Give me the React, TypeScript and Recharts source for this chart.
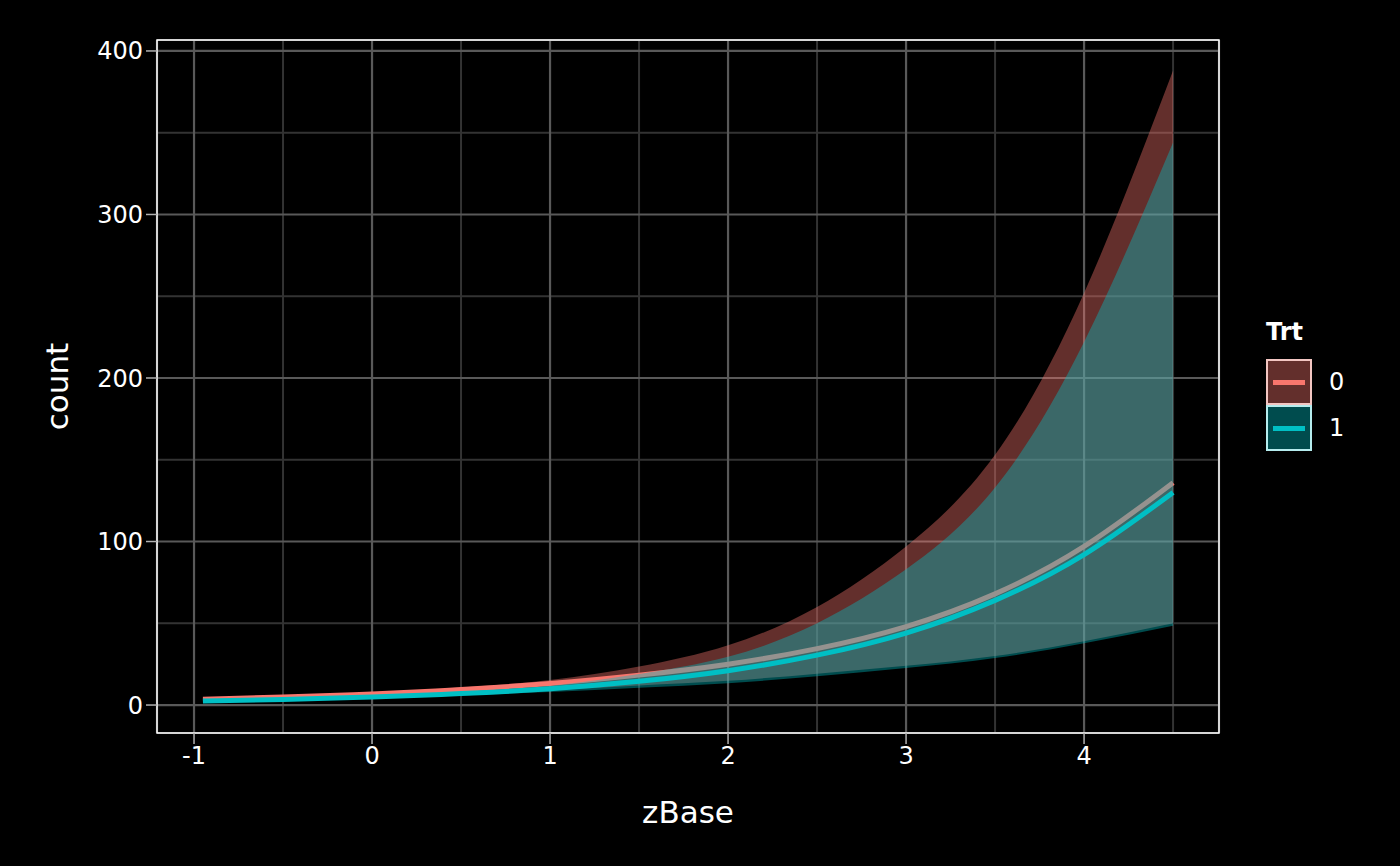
import {
  Area,
  CartesianGrid,
  ComposedChart,
  Legend,
  Line,
  ReferenceArea,
  XAxis,
  YAxis,
} from 'recharts';

const font = '"DejaVu Sans", Verdana, sans-serif';

// values, one entry per zBase position
const zBase = [-0.95, -0.5, 0, 0.5, 1, 1.5, 2, 2.5, 3, 3.5, 4, 4.5];
const fit0 = [3.6, 4.9, 6.8, 9.5, 13.2, 18.3, 25, 34.5, 48, 68, 97, 136];
const upper0 = [4.5, 5.8, 7.8, 10.8, 15.3, 23.5, 36.5, 60, 97, 153, 252, 388];
const lower0 = [2.8, 4.0, 5.6, 7.6, 9.2, 12, 14.8, 19.2, 24, 30, 39, 50];
const fit1 = [2.4, 3.4, 4.9, 7.0, 10, 14.5, 21, 30.5, 44, 64, 92, 130];
const upper1 = [2.9, 4.0, 5.7, 8.2, 11.8, 19, 29.5, 50, 83, 133, 222, 344];
const lower1 = [1.8, 2.7, 4.1, 5.9, 7.9, 10.6, 13.4, 17.6, 22.6, 28.7, 37.8, 48.5];

const xTicks = [-1, 0, 1, 2, 3, 4];
const xMinorTicks = [-0.5, 0.5, 1.5, 2.5, 3.5, 4.5];
const yTicks = [0, 100, 200, 300, 400];
const yMinorTicks = [50, 150, 250, 350];
const xDomain: [number, number] = [-1.208, 4.758];
const yDomain: [number, number] = [-17.1, 406.7];

const trtLabels = ['0', '1'];
const trtColors = ['#F8766D', '#00BFC4'];

const data = zBase.map((z, i) => ({
  zBase: z,
  fit0: fit0[i],
  band0: [lower0[i], upper0[i]],
  fit1: fit1[i],
  band1: [lower1[i], upper1[i]],
}));

const keyFills = ['#632F2C', '#004C4E'];
const keyBorders = ['#F3C6C2', '#B5ECEE'];

const TrtLegend = () => (
  <div style={{ fontFamily: font, color: '#fff' }}>
    <div style={{ fontWeight: 'bold', fontSize: 24, lineHeight: '26px', marginBottom: 14 }}>Trt</div>
    {trtLabels.map((label, i) => (
      <div key={label} style={{ display: 'flex', alignItems: 'center', height: 46 }}>
        <div
          style={{
            width: 42,
            height: 42,
            border: `2px solid ${keyBorders[i]}`,
            background: keyFills[i],
            position: 'relative',
          }}
        >
          <div style={{ position: 'absolute', left: 5, right: 5, top: 18.5, height: 5, background: trtColors[i] }} />
        </div>
        <span style={{ marginLeft: 17, fontSize: 24 }}>{label}</span>
      </div>
    ))}
  </div>
);

const YTitle = (props: any) => {
  const vb = props.viewBox;
  const x = vb.x + 31;
  const y = vb.y + vb.height / 2;
  return (
    <text x={x} y={y} transform={`rotate(-90, ${x}, ${y})`} textAnchor="middle" fill="#fff" fontSize={31} fontFamily={font}>
      count
    </text>
  );
};

const App = () => {
  const tick = { fill: '#fff', fontSize: 24, fontFamily: font };
  const tickLine = { stroke: '#b0b0b0', strokeWidth: 1.5 };
  return (
    <div style={{ position: 'absolute', left: 0, top: 0, width: 1400, height: 866, background: '#000' }}>
      <ComposedChart width={1400} height={866} data={data} margin={{ top: 40, right: 181, bottom: 33, left: 37 }}>
        <XAxis xAxisId="minor" dataKey="zBase" type="number" domain={xDomain} ticks={xMinorTicks} allowDataOverflow hide />
        <YAxis yAxisId="minor" type="number" domain={yDomain} ticks={yMinorTicks} allowDataOverflow hide />
        <CartesianGrid xAxisId="minor" yAxisId="minor" stroke="#333333" strokeWidth={2} />
        <CartesianGrid stroke="#595959" strokeWidth={2.2} />
        <XAxis
          dataKey="zBase"
          type="number"
          domain={xDomain}
          ticks={xTicks}
          allowDataOverflow
          axisLine={false}
          tickLine={tickLine}
          tickSize={11}
          tickMargin={3}
          tick={tick}
          height={100}
          label={{ value: 'zBase', position: 'insideBottom', offset: 10, fill: '#fff', fontSize: 31, fontFamily: font }}
        />
        <YAxis
          type="number"
          domain={yDomain}
          ticks={yTicks}
          allowDataOverflow
          axisLine={false}
          tickLine={tickLine}
          tickSize={11}
          tickMargin={3}
          tick={tick}
          width={120}
          label={{ value: 'count', content: YTitle }}
        />
        <Area
          dataKey="band0"
          type="natural"
          stroke="none"
          fill={trtColors[0]}
          fillOpacity={0.4}
          isAnimationActive={false}
          zIndex={101}
        />
        <Line
          dataKey="fit0"
          type="natural"
          stroke={trtColors[0]}
          strokeWidth={5}
          dot={false}
          isAnimationActive={false}
          zIndex={102}
        />
        <Area
          dataKey="band1"
          type="natural"
          stroke="none"
          fill={trtColors[1]}
          fillOpacity={0.4}
          isAnimationActive={false}
          zIndex={103}
        />
        <Line
          dataKey="fit1"
          type="natural"
          stroke={trtColors[1]}
          strokeWidth={5}
          dot={false}
          isAnimationActive={false}
          zIndex={104}
        />
        <ReferenceArea
          x1={xDomain[0]}
          x2={xDomain[1]}
          y1={yDomain[0]}
          y2={yDomain[1]}
          fill="none"
          fillOpacity={0}
          stroke="#ffffff"
          strokeWidth={1.5}
          ifOverflow="visible"
        />
        <Legend
          layout="vertical"
          align="center"
          verticalAlign="middle"
          content={TrtLegend}
          wrapperStyle={{ left: 1266, top: 319, width: 120 }}
        />
      </ComposedChart>
    </div>
  );
};

export default App;
